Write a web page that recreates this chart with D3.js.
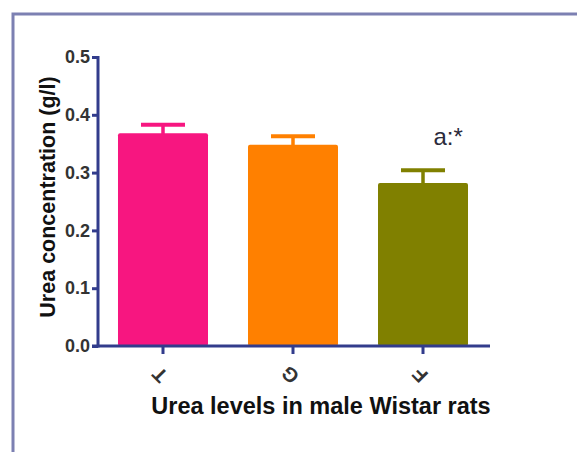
<!DOCTYPE html>
<html>
<head>
<meta charset="utf-8">
<script src="https://cdn.jsdelivr.net/npm/d3@7"></script>
<style>
  html, body { margin: 0; padding: 0; background: #fff; }
  svg { display: block; }
  text { font-family: Arial, "Liberation Sans", sans-serif; }
</style>
</head>
<body>
<svg id="chart" width="577" height="452"></svg>
<script>
const categories = ["T", "G", "F"];
const means = [0.368, 0.348, 0.282];
const errors = [0.015, 0.015, 0.022];
const barColors = ["#f71680", "#ff8000", "#808000"];
const yTicks = [0.0, 0.1, 0.2, 0.3, 0.4, 0.5];
const annotations = ["", "", "a:*"];

const svg = d3.select("#chart");
const axisColor = "#323c8c";

// outer frame
svg.append("rect")
  .attr("x", 13).attr("y", 14)
  .attr("width", 620).attr("height", 520)
  .attr("fill", "none")
  .attr("stroke", "#7c80b2")
  .attr("stroke-width", 3);

const x = d3.scaleBand()
  .domain(categories)
  .range([98, 488])
  .paddingInner(0.3077)
  .paddingOuter(0.1538);

const y = d3.scaleLinear()
  .domain([0, 0.5])
  .range([346, 57]);

// bars
svg.selectAll("rect.bar")
  .data(categories)
  .enter().append("rect")
  .attr("class", "bar")
  .attr("x", d => x(d))
  .attr("y", (d, i) => y(means[i]))
  .attr("width", x.bandwidth())
  .attr("height", (d, i) => y(0) - y(means[i]))
  .attr("rx", 2)
  .attr("fill", (d, i) => barColors[i]);

// error bars
const capW = 44;
categories.forEach((c, i) => {
  const cx = x(c) + x.bandwidth() / 2;
  const g = svg.append("g");
  g.append("line")
    .attr("x1", cx).attr("x2", cx)
    .attr("y1", y(means[i]) + 1).attr("y2", y(means[i] + errors[i]))
    .attr("stroke", barColors[i]).attr("stroke-width", 3.5);
  g.append("line")
    .attr("x1", cx - capW / 2).attr("x2", cx + capW / 2)
    .attr("y1", y(means[i] + errors[i])).attr("y2", y(means[i] + errors[i]))
    .attr("stroke", barColors[i]).attr("stroke-width", 4);
  if (annotations[i]) {
    svg.append("text")
      .attr("x", x(c) + x.bandwidth() * 0.78)
      .attr("y", 145)
      .attr("text-anchor", "middle")
      .attr("font-size", 24)
      .attr("fill", "#2b2b3b")
      .text(annotations[i]);
  }
});

// y axis
const yAxis = d3.axisLeft(y)
  .tickValues(yTicks)
  .tickFormat(d3.format(".1f"))
  .tickSize(6)
  .tickSizeOuter(0)
  .tickPadding(2);
const yg = svg.append("g")
  .attr("transform", "translate(98,0)")
  .call(yAxis);
yg.select(".domain").attr("stroke", axisColor).attr("stroke-width", 3)
  .attr("d", `M0,${y(0.5) - 1}V${y(0) + 1.5}`);
yg.selectAll(".tick line").attr("stroke", axisColor).attr("stroke-width", 3);
yg.selectAll(".tick text")
  .attr("font-size", 18).attr("font-weight", "bold").attr("fill", "#333")
  .attr("font-family", "Arial, 'Liberation Sans', sans-serif");

// x axis
const xAxis = d3.axisBottom(x).tickSize(8).tickSizeOuter(0).tickFormat("");
const xg = svg.append("g")
  .attr("transform", "translate(0,346)")
  .call(xAxis);
xg.select(".domain").attr("stroke", axisColor).attr("stroke-width", 3)
  .attr("d", "M92,0H490");
xg.selectAll(".tick line").attr("stroke", axisColor).attr("stroke-width", 3);

// rotated category labels
svg.selectAll("text.cat")
  .data(categories)
  .enter().append("text")
  .attr("class", "cat")
  .attr("transform", d => `translate(${x(d) + x.bandwidth() / 2 - 3},375) rotate(-135)`)
  .attr("text-anchor", "middle")
  .attr("dominant-baseline", "central")
  .attr("font-size", 20)
  .attr("font-weight", "bold")
  .attr("fill", "#333")
  .text(d => d);

// axis titles
svg.append("text")
  .attr("x", 321).attr("y", 414)
  .attr("text-anchor", "middle")
  .attr("font-size", 23.5).attr("font-weight", "bold").attr("fill", "#111")
  .text("Urea levels in male Wistar rats");

svg.append("text")
  .attr("transform", "translate(55,197) rotate(-90)")
  .attr("text-anchor", "middle")
  .attr("font-size", 21.5).attr("font-weight", "bold").attr("fill", "#111")
  .text("Urea concentration (g/l)");
</script>
</body>
</html>
